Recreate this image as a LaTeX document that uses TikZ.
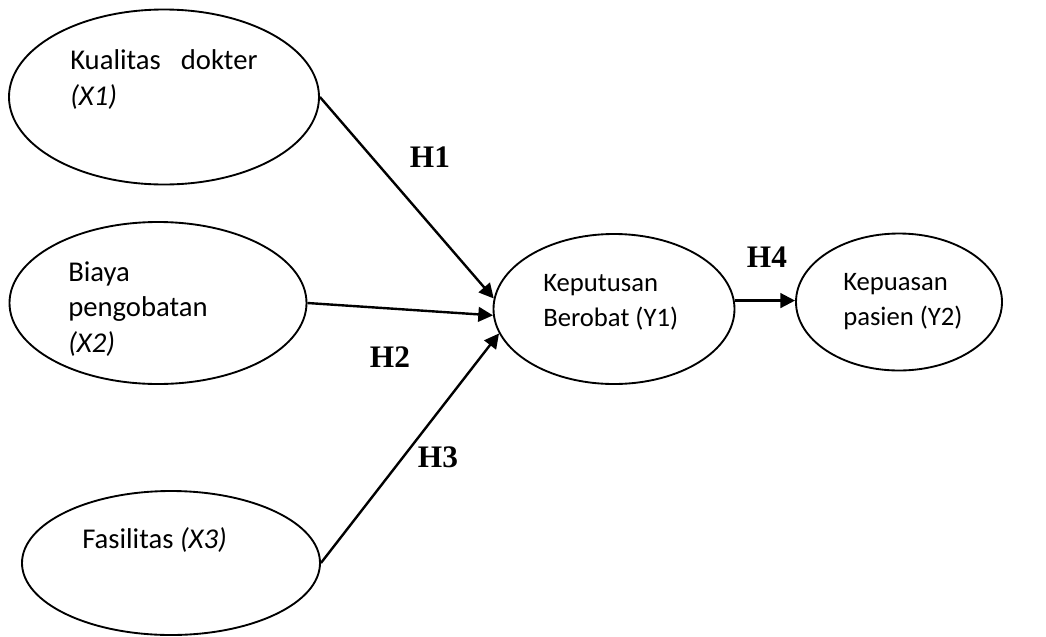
\documentclass[tikz,border=0pt]{standalone}
\usepackage{fontspec}
\setmainfont{Carlito}
\newfontfamily\hypfont{Liberation Serif}
\usetikzlibrary{shapes.geometric,arrows.meta}

\begin{document}
\begin{tikzpicture}[
    x=0.75pt, y=-0.75pt,
    var/.style={ellipse, draw, line width=1.4pt, inner sep=0pt},
    vartext/.style={anchor=base west, align=left, inner sep=0pt,
                    font=\fontsize{21.5}{26.5}\selectfont},
    smalltext/.style={vartext, font=\fontsize{20}{26.25}\selectfont},
    hyp/.style={font=\hypfont\bfseries\fontsize{23.5}{28}\selectfont},
    arrow/.style={-{Triangle[length=11pt, width=11pt]}, line width=1.8pt}
]
    \useasboundingbox (0,0) rectangle (1046,636);

    % variabel bebas
    \node[var, minimum width=232.5pt, minimum height=131.25pt] (x1) at (164,97) {};
    \node[var, minimum width=222.75pt, minimum height=121.5pt] (x2) at (158,303) {};
    \node[var, minimum width=223.5pt, minimum height=108pt] (x3) at (171,563) {};

    % variabel terikat
    \node[var, minimum width=180.75pt, minimum height=112.5pt] (y1) at (614,309) {};
    \node[var, minimum width=154.5pt, minimum height=102.75pt] (y2) at (899,302) {};

    % teks di dalam elips (anker = baris terakhir)
    \node[vartext] (x1text) at (70,105)
        {Kualitas\hspace{0.7em}dokter\\\textit{(X1)}};
    \node[vartext] (x2text) at (68,352)
        {Biaya\\pengobatan\\\textit{(X2)}};
    \node[vartext] (x3text) at (82,548)
        {Fasilitas \textit{(X3)}};
    \node[smalltext] (y1text) at (543,326)
        {Keputusan\\Berobat (Y1)};
    \node[smalltext] (y2text) at (843,325)
        {Kepuasan\\pasien (Y2)};

    % hipotesis
    \node[hyp] (h1) at (430,157) {H1};
    \node[hyp] (h2) at (390,357) {H2};
    \node[hyp] (h3) at (438,457) {H3};
    \node[hyp] (h4) at (767,257) {H4};

    % X1, X2, X3 naar Y1
    \draw[arrow] (x1.east) -- (y1.175);
    \draw[arrow] (x2.east) -- (y1.183);
    \draw[arrow] (x3.east) -- (y1.192);

    % Y1 naar Y2
    \draw[arrow] (y1.4) -- (y1.4 -| y2.west);

\end{tikzpicture}
\end{document}
